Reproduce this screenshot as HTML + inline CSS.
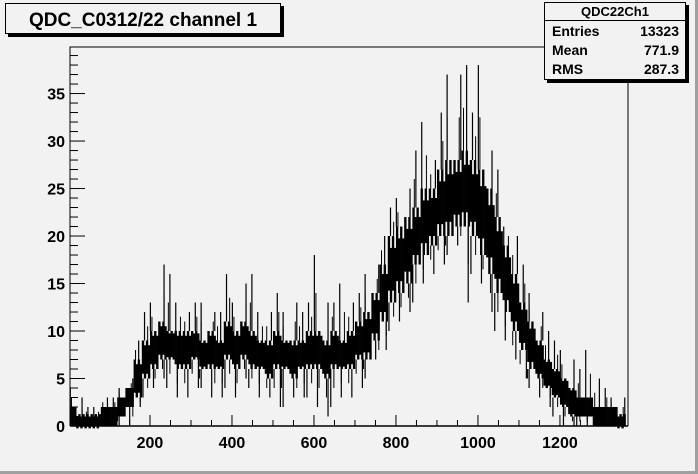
<!DOCTYPE html>
<html><head><meta charset="utf-8"><style>
html,body{margin:0;padding:0;background:#f2f2f2;}
svg{display:block;font-family:"Liberation Sans",Arial,sans-serif;font-weight:bold;}
</style></head><body>
<svg id="c" width="698" height="474" xmlns="http://www.w3.org/2000/svg">
<rect x="0" y="0" width="698" height="474" fill="#f2f2f2"/>
<path d="M0,472.5 H696.5 V0" fill="none" stroke="#a0a0a0" stroke-width="3"/>
<path d="M70,426 V47 H628 V426" fill="none" stroke="#000" stroke-width="1"/>
<g id="marks"></g>
<g id="axes"></g>
<g>
<rect x="8" y="6" width="276" height="31" fill="#000"/>
<rect x="5.5" y="3.5" width="275" height="30" fill="#f2f2f2" stroke="#000"/>
<text x="143" y="26" font-size="19" text-anchor="middle">QDC_C0312/22 channel 1</text>
</g>
<g>
<rect x="547" y="5" width="142" height="78" fill="#000"/>
<rect x="544.5" y="2.5" width="141" height="77" fill="#f2f2f2" stroke="#000"/>
<line x1="544.5" y1="20.5" x2="685.5" y2="20.5" stroke="#000"/>
<text x="615" y="16" font-size="13" text-anchor="middle">QDC22Ch1</text>
<text x="552" y="36" font-size="14">Entries</text>
<text x="679" y="36" font-size="14" text-anchor="end">13323</text>
<text x="552" y="55" font-size="14">Mean</text>
<text x="679" y="55" font-size="14" text-anchor="end">771.9</text>
<text x="552" y="74" font-size="14">RMS</text>
<text x="679" y="74" font-size="14" text-anchor="end">287.3</text>
</g>
</svg>
<script>
const binStarts = [0,20,40,60,80,100,120,140,160,180,200,220,240,260,280,300,320,340,360,380,400,420,440,460,480,500,520,540,560,580,600,620,640,660,680,700,720,740,760,780,800,820,840,860,880,900,920,940,960,980,1000,1020,1040,1060,1080,1100,1120,1140,1160,1180,1200,1220,1240,1260,1280,1300,1320,1340];
const bandLow  = [0,0,0,0,0,0,1,2,3,5,6,7,7,6,6,7,6,6,6,7,6,7,6,6,5,6,6,5,6,6,6,5,6,6,6,7,7,9,11,13,14,15,17,18,19,20,20,21,21,20,18,16,14,12,10,8,6,5,4,3,2,1,1,1,0,0,0,0];
const bandHigh = [2,1,1,1,2,2,3,4,7,9,10,11,10,10,10,10,9,10,9,11,10,11,10,9,9,10,9,9,9,10,10,9,10,9,10,11,12,14,17,20,21,22,23,25,25,27,28,28,29,28,27,25,22,19,16,13,11,9,7,6,5,4,3,3,2,2,2,1];
const spikeMax = [4,3,2,2,3,3,4,5,9,12,13,17,16,13,12,13,13,12,12,16,13,15,16,12,12,14,12,13,12,13,18,13,13,15,13,14,16,17,20,23,24,25,29,32,28,33,37,37,38,33,38,29,27,21,20,17,14,12,10,9,8,7,6,8,5,4,3,3];
const spikeMin = [0,0,0,0,0,0,0,0,2,3,4,5,4,3,3,4,4,3,3,4,3,5,4,3,3,2,2,3,3,3,2,1,2,3,3,4,5,7,8,10,11,12,13,15,16,17,18,19,13,16,15,12,10,9,7,5,4,3,2,1,0,0,0,0,0,0,0,0];
const xTicks = [200,400,600,800,1000,1200];
const yTicks = [0,5,10,15,20,25,30,35];
const XMIN=0, XMAX=1366, YMIN=0, YMAX=39.9, BINW=20;
const L=70,R=628,T=47,B=426;
function sx(v){return 68+(v-XMIN)*(R-68)/(XMAX-XMIN);}
function sy(v){return B-(v-YMIN)*(B-T)/(YMAX-YMIN);}
const NS="http://www.w3.org/2000/svg";
const marks=document.getElementById('marks'), axes=document.getElementById('axes');
function mk(t,a,p){const e=document.createElementNS(NS,t);for(const k in a)e.setAttribute(k,a[k]);p.appendChild(e);return e;}
binStarts.forEach((s,i)=>{
  const x0=Math.max(sx(s),L), x1=Math.min(sx(s+BINW),R), w=x1-x0;
  const lo=bandLow[i], hi=bandHigh[i], mid=(lo+hi)/2;
  // noisy band: sub-columns alternating upper/lower extents
  for(let k=0;k<4;k++){
    const top=(k%2===0)?hi:(hi+mid)/2+0.5;
    const bot=(k%2===1)?lo:(lo+mid)/2-0.5;
    const sub=mk('rect',{x:x0+k*w/4,y:sy(top),width:w/4+0.3,height:Math.max(1,sy(bot)-sy(top)),fill:'#000'},marks);
    
    
  }
  const xs=x0+w*((i*7)%10+0.5)/10.5;
  const up=mk('line',{x1:xs,x2:xs,y1:sy(hi),y2:sy(spikeMax[i]),stroke:'#000','stroke-width':1.2},marks);
  
  
  const xs3=x0+w*((i*5+2)%10+0.5)/10.5;
  const up2=mk('line',{x1:xs3,x2:xs3,y1:sy(hi),y2:sy((hi+spikeMax[i])/2),stroke:'#000','stroke-width':1},marks);
  
  
  const xs2=x0+w*((i*3+4)%10+0.5)/10.5;
  const dn=mk('line',{x1:xs2,x2:xs2,y1:sy(lo),y2:sy(spikeMin[i]),stroke:'#000','stroke-width':1.2},marks);
  
  
  const xs4=x0+w*((i*9+6)%10+0.5)/10.5;
  const dn2=mk('line',{x1:xs4,x2:xs4,y1:sy(lo),y2:sy((lo+spikeMin[i])/2),stroke:'#000','stroke-width':1},marks);
  
  
});
for(let v=50;v<=1350;v+=50){
  const major=v%200===0;
  const t=mk('line',{x1:sx(v),x2:sx(v),y1:B,y2:B-(major?11:6),stroke:'#000'},axes);
  
  
}
xTicks.forEach(v=>{
  const t=mk('text',{x:sx(v),y:B+22,'font-size':16,'text-anchor':'middle'},axes);
  t.textContent=v;
  
  
});
for(let v=1;v<=39;v++){
  const major=v%5===0;
  const t=mk('line',{x1:L,x2:L+(major?15:8),y1:sy(v),y2:sy(v),stroke:'#000'},axes);
  
  
}
yTicks.forEach(v=>{
  const t=mk('text',{x:L-5,y:sy(v)+6,'font-size':16,'text-anchor':'end'},axes);
  t.textContent=v;
  
  
});
mk('line',{x1:L,x2:R,y1:B,y2:B,stroke:'#000','stroke-width':1.5},axes);
</script>
</body></html>
